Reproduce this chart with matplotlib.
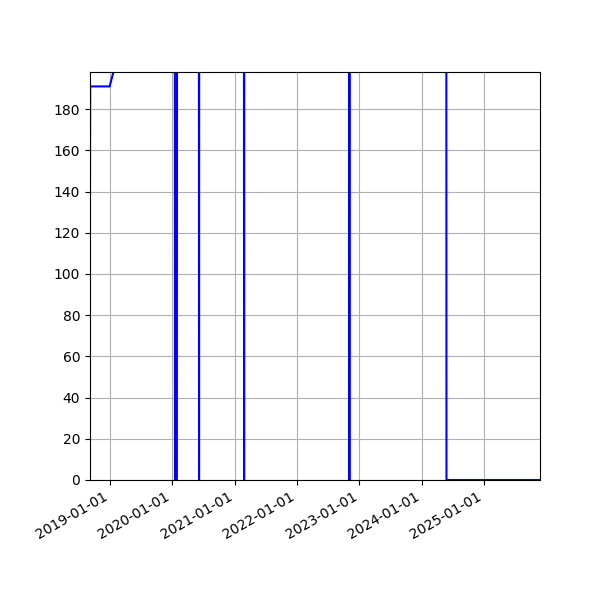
import matplotlib
matplotlib.use("Agg")
import matplotlib.pyplot as plt
import matplotlib.dates as mdates
import pandas as pd

# Data (values above the top of the axes are off-chart)
dates = [
    "2018-09-03", "2018-09-07", "2018-12-30", "2019-01-28", "2019-03-01",
    "2020-01-16", "2020-01-17", "2020-01-28", "2020-01-29",
    "2020-06-05", "2020-06-06", "2020-06-07",
    "2021-02-24", "2021-02-25", "2021-02-26",
    "2022-11-03", "2022-11-04", "2022-11-05",
    "2024-05-25", "2024-05-26", "2025-12-31",
]
values = [
    0, 191, 191, 200, 260,
    260, 0, 0, 260,
    260, 0, 260,
    260, 0, 260,
    260, 0, 260,
    260, 0, 0,
]
x_left, x_right = "2018-09-06", "2025-11-25"
y_top = 198

dates = pd.to_datetime(dates)

fig = plt.figure(figsize=(6, 6), dpi=100)
ax = fig.add_subplot(111)
ax.plot(dates, values, color="blue", linewidth=1.5)
ax.set_xlim(pd.Timestamp(x_left), pd.Timestamp(x_right))
ax.set_ylim(0, y_top)
ax.set_yticks(range(0, 181, 20))
ax.xaxis.set_major_locator(mdates.YearLocator())
ax.xaxis.set_major_formatter(mdates.DateFormatter("%Y-%m-%d"))
ax.grid(True)
fig.autofmt_xdate()
fig.subplots_adjust(left=0.15, right=0.9, top=0.88, bottom=0.2)
fig.savefig("out.png", dpi=100)
